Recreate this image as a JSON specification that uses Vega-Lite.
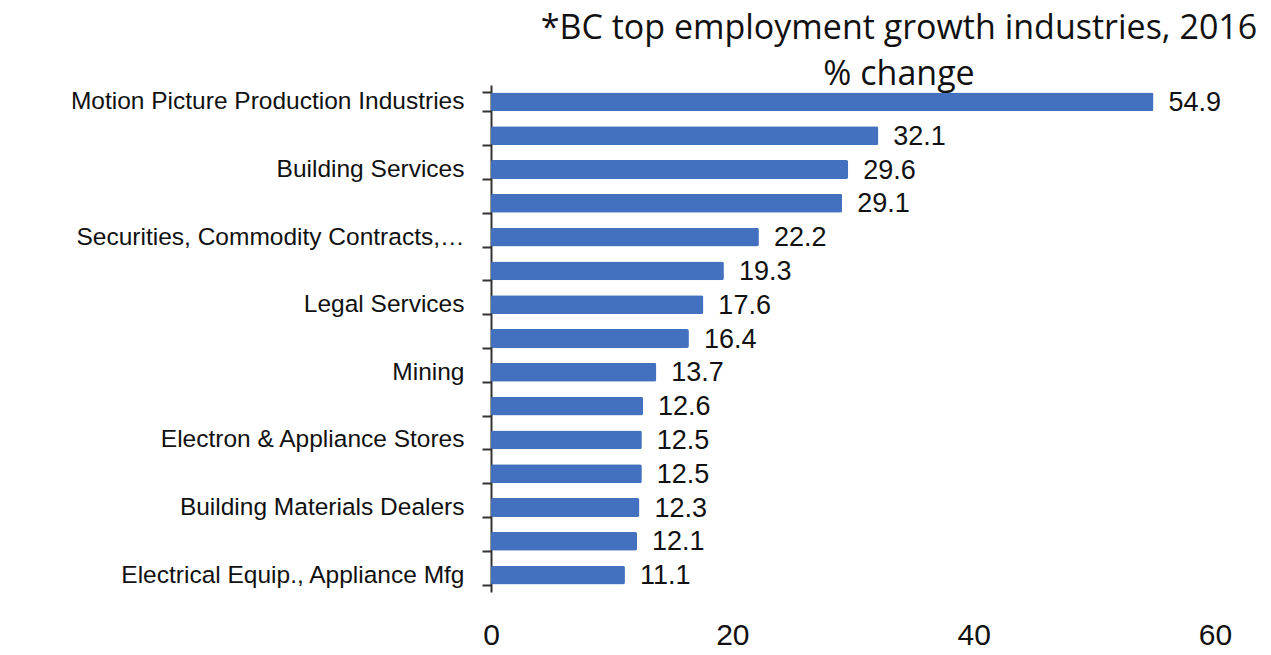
{
  "$schema": "https://vega.github.io/schema/vega-lite/v6.json",
  "autosize": "none",
  "width": 724,
  "height": 507,
  "padding": {"left": 491, "top": 85, "right": 56, "bottom": 63},
  "background": "white",
  "title": {
    "text": ["*BC top employment growth industries, 2016", "% change"],
    "font": "'Open Sans', Lato, sans-serif",
    "fontSize": 34,
    "fontWeight": "normal",
    "color": "#111111",
    "anchor": "middle",
    "dx": 46,
    "offset": -20,
    "lineHeight": 46
  },
  "data": {
    "values": [
      {"rank": 1, "industry": "Motion Picture Production Industries", "pct": 54.9},
      {"rank": 2, "industry": "unlabelled 2", "pct": 32.1},
      {"rank": 3, "industry": "Building Services", "pct": 29.6},
      {"rank": 4, "industry": "unlabelled 4", "pct": 29.1},
      {"rank": 5, "industry": "Securities, Commodity Contracts,…", "pct": 22.2},
      {"rank": 6, "industry": "unlabelled 6", "pct": 19.3},
      {"rank": 7, "industry": "Legal Services", "pct": 17.6},
      {"rank": 8, "industry": "unlabelled 8", "pct": 16.4},
      {"rank": 9, "industry": "Mining", "pct": 13.7},
      {"rank": 10, "industry": "unlabelled 10", "pct": 12.6},
      {"rank": 11, "industry": "Electron & Appliance Stores", "pct": 12.5},
      {"rank": 12, "industry": "unlabelled 12", "pct": 12.5},
      {"rank": 13, "industry": "Building Materials Dealers", "pct": 12.3},
      {"rank": 14, "industry": "unlabelled 14", "pct": 12.1},
      {"rank": 15, "industry": "Electrical Equip., Appliance Mfg", "pct": 11.1}
    ]
  },
  "encoding": {
    "y": {
      "field": "industry",
      "type": "nominal",
      "sort": {"field": "rank", "order": "ascending"},
      "scale": {"paddingInner": 0.44, "paddingOuter": 0.22},
      "axis": {
        "title": null,
        "labelExpr": "indexof(datum.label, 'unlabelled') === 0 ? '' : datum.label",
        "labelFont": "'Liberation Sans', Arial, sans-serif",
        "labelFontSize": 24.5,
        "labelColor": "#111111",
        "labelPadding": 18,
        "labelLimit": 480,
        "tickBand": "extent",
        "tickSize": 9,
        "tickWidth": 2,
        "tickColor": "#333333",
        "domainColor": "#333333",
        "domainWidth": 2,
        "grid": false
      }
    },
    "x": {
      "field": "pct",
      "type": "quantitative",
      "scale": {"domain": [0, 60], "nice": false},
      "axis": {
        "title": null,
        "values": [0, 20, 40, 60],
        "domain": false,
        "ticks": false,
        "grid": false,
        "labelFont": "'Liberation Sans', Arial, sans-serif",
        "labelFontSize": 30,
        "labelColor": "#111111",
        "labelPadding": 28,
        "labelFlush": false
      }
    }
  },
  "layer": [
    {"mark": {"type": "bar", "color": "#4470C0", "cornerRadius": 2}},
    {
      "mark": {
        "type": "text",
        "align": "left",
        "baseline": "middle",
        "dx": 15,
        "dy": 1,
        "font": "'Liberation Sans', Arial, sans-serif",
        "fontSize": 27,
        "color": "#111111"
      },
      "encoding": {"text": {"field": "pct", "type": "quantitative", "format": ".1f"}}
    }
  ],
  "config": {"view": {"stroke": null}}
}
